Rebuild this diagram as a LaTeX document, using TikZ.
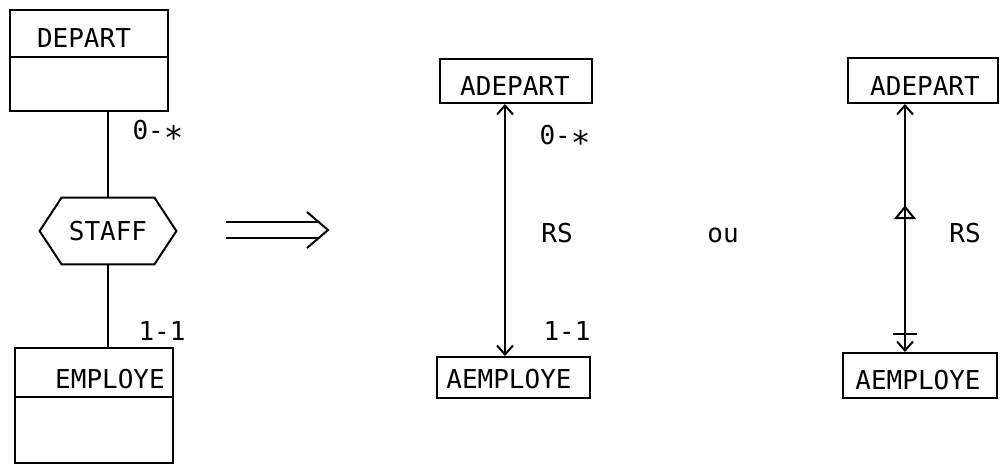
\documentclass[tikz,border=0pt]{standalone}
\usepackage{fontspec}
\usepackage{graphicx}
\newfontfamily\typefont{DejaVu Sans Mono}
\usetikzlibrary{calc, arrows.meta}

\newcommand{\manysym}{\raisebox{-0.65ex}{\scalebox{1.25}{*}}}

\tikzset{
    lbl/.style={font=\typefont\fontsize{13}{15}\selectfont, inner sep=0pt, anchor=base},
    entbox/.style={draw, line width=1pt, inner sep=0pt},
    link/.style={line width=1pt},
    biarrow/.style={link, {Straight Barb[length=4.5pt,width=8pt]}-{Straight Barb[length=4.5pt,width=8pt]}}
}

\begin{document}
\begin{tikzpicture}[x=0.5pt, y=-0.5pt]
    % Fix page size (1 unit = 1 pixel of the sketch)
    \useasboundingbox (0,0) rectangle (1001,465);

    % Draw the entity boxes of the schema
    \node[entbox, minimum width=79pt, minimum height=50.5pt] (depart) at (89,60.5) {};
    \node[entbox, minimum width=79pt, minimum height=57.5pt] (employe) at (94,405.5) {};
    \draw[link] (depart.west |- 0,57) -- (depart.east |- 0,57);
    \draw[link] (employe.west |- 0,397) -- (employe.east |- 0,397);
    \node[lbl] (departT) at (84,48) {DEPART};
    \node[lbl] (employeT) at (110,388) {EMPLOYE};

    % Draw the relationship hexagon
    \node[font=\typefont\fontsize{13}{15}\selectfont, inner sep=0pt, minimum width=68pt, minimum height=33pt] (staff) at (108,231) {STAFF};
    \draw[link] (staff.west) -- ([xshift=11pt]staff.north west) -- ([xshift=-11pt]staff.north east)
        -- (staff.east) -- ([xshift=-11pt]staff.south east) -- ([xshift=11pt]staff.south west) -- cycle;

    % Connect entities to the relationship
    \draw[link] (staff.north) -- (staff.north |- depart.south);
    \draw[link] (staff.south) -- (staff.south |- employe.north);
    \node[lbl] (cardDep) at (158,140) {0-\manysym};
    \node[lbl] (cardEmp) at (162,340) {1-1};

    % Draw the implication arrow
    \coordinate (impFrom) at (226,230);
    \coordinate (impTo) at (328,230);
    \draw[link] (impFrom) ++(0,-8) -- ++(92,0);
    \draw[link] (impFrom) ++(0,8) -- ++(92,0);
    \draw[link] ($(impTo)+(-21,-18)$) -- (impTo) -- ($(impTo)+(-21,18)$);

    % First translation: cardinalities on the link
    \node[entbox, minimum width=76pt, minimum height=22pt] (adepartA) at (516,81) {};
    \node[entbox, minimum width=76.5pt, minimum height=20.5pt] (aemployeA) at (513.5,377.5) {};
    \node[lbl] (adepartAT) at (515,96) {ADEPART};
    \node[lbl] (aemployeAT) at (509,388) {AEMPLOYE};
    \coordinate (axisA) at (505,0);
    \draw[biarrow] (axisA |- adepartA.south) -- (axisA |- aemployeA.north);
    \node[lbl] (cardA) at (565,145) {0-\manysym};
    \node[lbl] (rsA) at (557,242) {RS};
    \node[lbl] (cardB) at (567,340) {1-1};

    % Alternative
    \node[lbl] (ou) at (723,242) {ou};

    % Second translation: symbols on the link
    \node[entbox, minimum width=75pt, minimum height=22.5pt] (adepartB) at (923,80.5) {};
    \node[entbox, minimum width=77pt, minimum height=22.5pt] (aemployeB) at (920,375.5) {};
    \node[lbl] (adepartBT) at (925,96) {ADEPART};
    \node[lbl] (aemployeBT) at (918,389) {AEMPLOYE};
    \coordinate (axisB) at (905,0);
    \draw[biarrow] (axisB |- adepartB.south) -- (axisB |- aemployeB.north);
    \coordinate (triB) at (905,218);
    \coordinate (barB) at (905,334);
    \draw[link] ($(triB)+(-9,0)$) -- ($(triB)+(0,-11)$) -- ($(triB)+(9,0)$) -- cycle;
    \draw[link] ($(barB)+(-12,0)$) -- ($(barB)+(12,0)$);
    \node[lbl] (rsB) at (965,242) {RS};

\end{tikzpicture}
\end{document}
